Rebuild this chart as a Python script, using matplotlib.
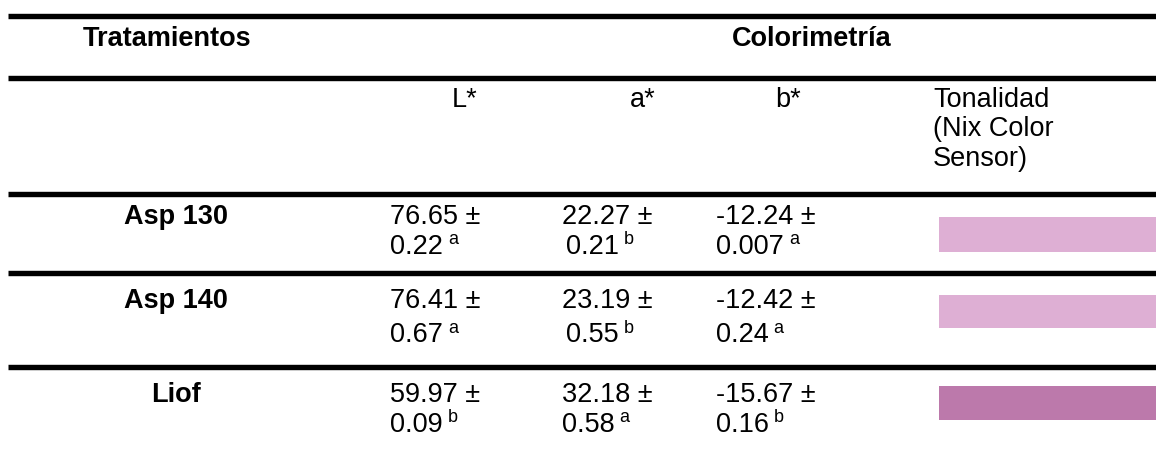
import matplotlib
matplotlib.use("Agg")
import matplotlib.pyplot as plt

# ---- data ----
treatments = ["Asp 130", "Asp 140", "Liof"]
L_mean = [76.65, 76.41, 59.97]
L_sd = [0.22, 0.67, 0.09]
L_grp = ["a", "a", "b"]
a_mean = [22.27, 23.19, 32.18]
a_sd = [0.21, 0.55, 0.58]
a_grp = ["b", "b", "a"]
b_mean = [-12.24, -12.42, -15.67]
b_sd = [0.007, 0.24, 0.16]
b_grp = ["a", "a", "b"]
tone_colors = ["#DEAFD4", "#DEAFD4", "#BC79AB"]
header_main = ["Tratamientos", "Colorimetría"]
header_sub = ["L*", "a*", "b*"]
tone_header = ["Tonalidad", "(Nix Color", "Sensor)"]

# ---- layout (pixel space) ----
W, H = 1156, 454
fig = plt.figure(figsize=(W / 100, H / 100), dpi=100)
ax = fig.add_axes([0, 0, 1, 1])
ax.set_xlim(0, W)
ax.set_ylim(H, 0)
ax.axis("off")

FONT = "Liberation Sans"
FS = 19.5
SUP = 13

# rules
rule_y = [16, 78, 194.2, 272.8, 367.2]
for y in rule_y:
    ax.plot([8, W], [y, y], color="black", lw=5.4 * 0.72, solid_capstyle="butt")

# header row 1
ax.text(83, 46, header_main[0], fontsize=FS, fontweight="bold", family=FONT, ha="left", va="baseline")
ax.text(812, 46, header_main[1], fontsize=FS, fontweight="bold", family=FONT, ha="center", va="baseline")

# header row 2
sub_right = [477, 656, 801]
for x, t in zip(sub_right, header_sub):
    ax.text(x, 107, t, fontsize=FS, family=FONT, ha="right", va="baseline")
for k, line in enumerate(tone_header):
    ax.text(933, 107 + 29.5 * k, line, fontsize=FS, family=FONT, ha="left", va="baseline")

fig.canvas.draw()
renderer = fig.canvas.get_renderer()


def with_sup(x, y, main, sup):
    t = ax.text(x, y, main, fontsize=FS, family=FONT, ha="left", va="baseline")
    bb = t.get_window_extent(renderer=renderer)
    x_end = ax.transData.inverted().transform((bb.x1, 0))[0]
    ax.text(x_end + 5, y - 9, sup, fontsize=SUP, family=FONT, ha="left", va="baseline")


row_base = [224, 308, 401.5]
row_gap = [29.5, 34, 30]
col_left = [390, 562, 716]
col_left2 = [[390, 566, 716], [390, 566, 716], [390, 562, 716]]

for i, name in enumerate(treatments):
    y1 = row_base[i]
    y2 = y1 + row_gap[i]
    ax.text(176, y1, name, fontsize=FS, fontweight="bold", family=FONT, ha="center", va="baseline")
    for j, (m, s, g) in enumerate([(L_mean[i], L_sd[i], L_grp[i]),
                                   (a_mean[i], a_sd[i], a_grp[i]),
                                   (b_mean[i], b_sd[i], b_grp[i])]):
        ax.text(col_left[j], y1, f"{m} ±", fontsize=FS, family=FONT, ha="left", va="baseline")
        with_sup(col_left2[i][j], y2, f"{s}", g)

# colour swatches
sw_top = [217.3, 295, 386]
sw_h = [34.4, 32.7, 34]
ax.barh([t + h / 2 for t, h in zip(sw_top, sw_h)], [W - 938.7] * 3, height=sw_h,
        left=938.7, color=tone_colors, edgecolor="none")

fig.savefig("out.png", dpi=100)
